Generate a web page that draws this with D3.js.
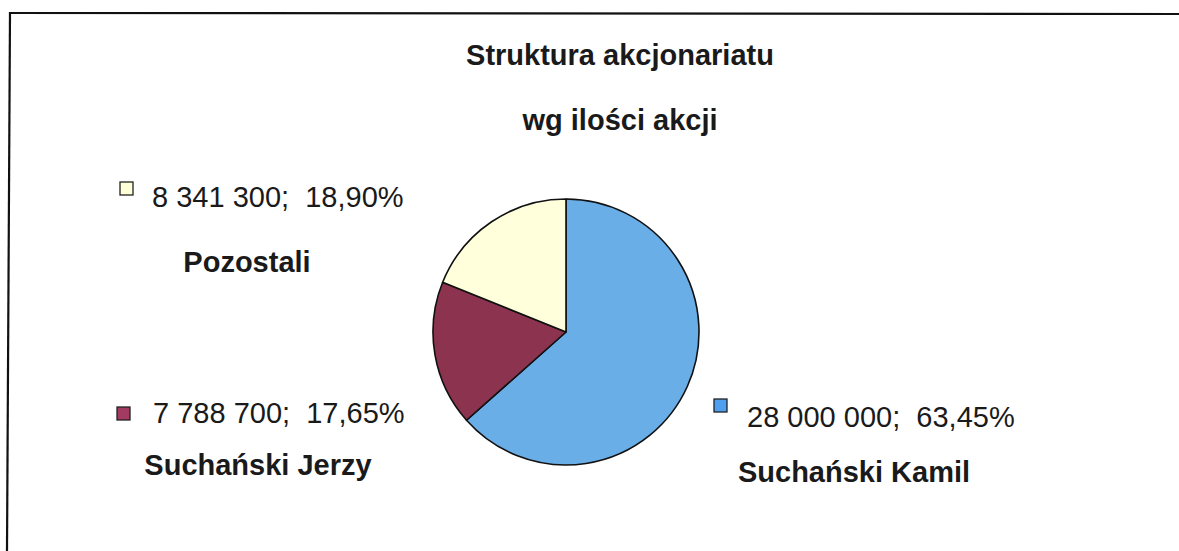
<!DOCTYPE html>
<html>
<head>
<meta charset="utf-8">
<script src="https://cdn.jsdelivr.net/npm/d3@7"></script>
<style>
  html, body { margin: 0; padding: 0; background: #fff; }
  svg { display: block; }
</style>
</head>
<body>
<svg id="chart" width="1179" height="551"></svg>
<script>
const names = ["Suchański Kamil", "Suchański Jerzy", "Pozostali"];
const shares = [28000000, 7788700, 8341300];
const valueLabels = ["28 000 000;  63,45%", "7 788 700;  17,65%", "8 341 300;  18,90%"];
const colors = ["#6aaee8", "#8c3350", "#ffffdc"];
const swatchColors = ["#4f9ff0", "#a23a62", "#ffffd8"];
const titleLines = ["Struktura akcjonariatu", "wg ilości akcji"];

const svg = d3.select("#chart");
const font = "Liberation Sans, Arial, sans-serif";
const fs = 29;

// frame (top and left edges visible)
svg.append("line").attr("x1", 9).attr("y1", 13).attr("x2", 1179).attr("y2", 14)
  .attr("stroke", "#111").attr("stroke-width", 2.2);
svg.append("line").attr("x1", 10).attr("y1", 12).attr("x2", 7).attr("y2", 551)
  .attr("stroke", "#111").attr("stroke-width", 2.2);

// title
svg.selectAll("text.title").data(titleLines).enter().append("text")
  .attr("class", "title")
  .attr("x", 620)
  .attr("y", (d, i) => 65 + i * 65)
  .attr("text-anchor", "middle")
  .attr("font-family", font).attr("font-weight", "bold").attr("font-size", fs)
  .attr("fill", "#1a1a1a")
  .text(d => d);

// pie
const cx = 566, cy = 332, r = 133;
const pie = d3.pie().sort(null).value(d => d);
const arc = d3.arc().innerRadius(0).outerRadius(r);
const g = svg.append("g").attr("transform", `translate(${cx},${cy})`);
g.selectAll("path").data(pie(shares)).enter().append("path")
  .attr("d", arc)
  .attr("fill", (d, i) => colors[i])
  .attr("stroke", "#111").attr("stroke-width", 1.6)
  .attr("stroke-linejoin", "round");

// labels: [swatch x, swatch y, value text x, value baseline, name center x, name baseline]
const labelPos = [
  [714, 399, 747, 427, 854, 482],
  [117, 407, 153, 423, 258, 475],
  [120, 182, 152, 207, 247, 272]
];
const lab = svg.selectAll("g.lab").data(names).enter().append("g").attr("class", "lab");
lab.append("rect")
  .attr("x", (d, i) => labelPos[i][0]).attr("y", (d, i) => labelPos[i][1])
  .attr("width", 13).attr("height", 13)
  .attr("fill", (d, i) => swatchColors[i])
  .attr("stroke", "#222").attr("stroke-width", 1.3);
lab.append("text")
  .attr("x", (d, i) => labelPos[i][2]).attr("y", (d, i) => labelPos[i][3])
  .attr("font-family", font).attr("font-size", fs).attr("fill", "#1a1a1a")
  .attr("xml:space", "preserve").style("white-space", "pre")
  .text((d, i) => valueLabels[i]);
lab.append("text")
  .attr("x", (d, i) => labelPos[i][4]).attr("y", (d, i) => labelPos[i][5])
  .attr("text-anchor", "middle")
  .attr("font-family", font).attr("font-weight", "bold").attr("font-size", fs)
  .attr("fill", "#1a1a1a")
  .text(d => d);
</script>
</body>
</html>
